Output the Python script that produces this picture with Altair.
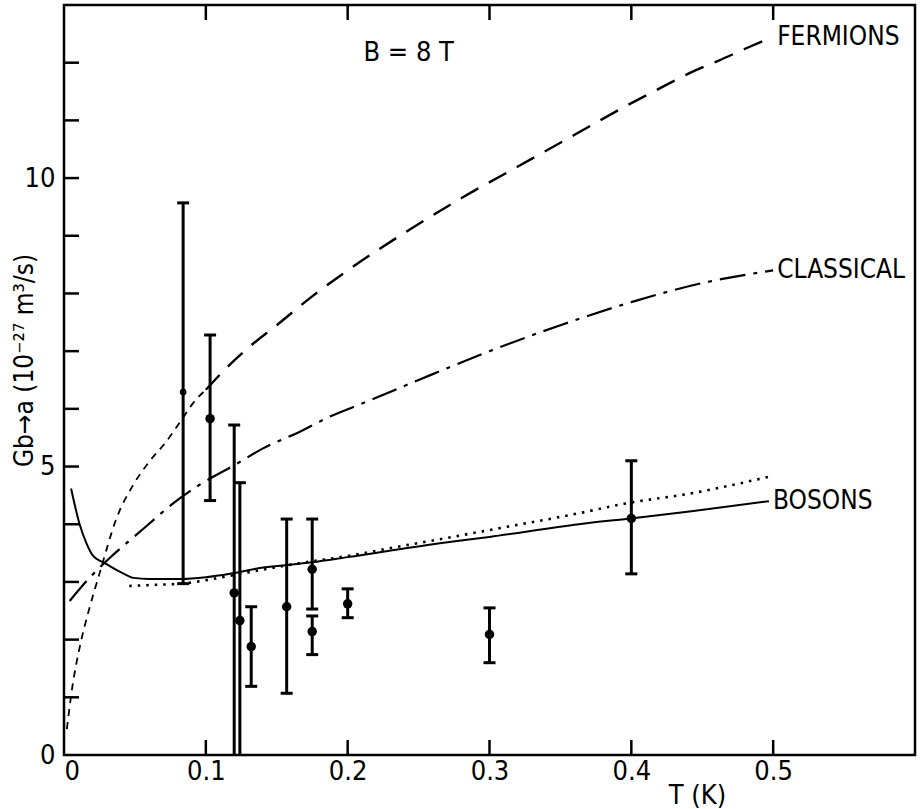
import altair as alt
import pandas as pd

# ---------------- data ----------------
# measured points (T in K, G in 1e-27 m^3/s) with error-bar limits
pt_T = [0.084, 0.103, 0.120, 0.124, 0.132, 0.157, 0.175, 0.175, 0.200, 0.300, 0.400]
pt_G = [6.29, 5.83, 2.81, 2.33, 1.88, 2.57, 3.22, 2.14, 2.62, 2.09, 4.10]
pt_lo = [2.97, 4.41, 0.0, 0.0, 1.19, 1.07, 2.53, 1.74, 2.38, 1.60, 3.14]
pt_hi = [9.57, 7.28, 5.72, 4.72, 2.57, 4.09, 4.09, 2.41, 2.88, 2.55, 5.10]
pt_lo_cap = [True, True, False, False, True, True, True, True, True, True, True]
pt_open = [True, False, False, False, False, False, False, False, False, False, False]

# theory curves
ferm_low_T = [0.002, 0.006, 0.011, 0.018, 0.025, 0.037, 0.049, 0.060, 0.072, 0.084, 0.091, 0.100]
ferm_low_G = [0.45, 1.20, 1.86, 2.55, 3.14, 4.10, 4.69, 5.08, 5.43, 5.85, 6.10, 6.33]
ferm_T = [0.100, 0.115, 0.131, 0.150, 0.175, 0.200, 0.240, 0.280, 0.320, 0.360, 0.394, 0.422, 0.441, 0.462, 0.481, 0.500]
ferm_G = [6.33, 6.72, 7.08, 7.45, 7.95, 8.40, 9.05, 9.65, 10.20, 10.75, 11.22, 11.58, 11.82, 12.04, 12.25, 12.45]
class_T = [0.004, 0.018, 0.032, 0.054, 0.079, 0.096, 0.122, 0.140, 0.166, 0.187, 0.213, 0.250, 0.300, 0.350, 0.400, 0.450, 0.500]
class_G = [2.67, 3.07, 3.41, 3.88, 4.40, 4.69, 5.05, 5.31, 5.60, 5.86, 6.12, 6.50, 7.00, 7.45, 7.85, 8.18, 8.40]
bos_T = [0.005, 0.011, 0.016, 0.020, 0.030, 0.040, 0.049, 0.060, 0.070, 0.083, 0.100, 0.117, 0.138, 0.175, 0.200, 0.265, 0.300, 0.363, 0.399, 0.441, 0.497]
bos_G = [4.62, 4.00, 3.66, 3.47, 3.31, 3.17, 3.07, 3.05, 3.05, 3.05, 3.08, 3.14, 3.24, 3.34, 3.43, 3.67, 3.78, 4.00, 4.10, 4.22, 4.40]
dot_T = [0.046, 0.065, 0.083, 0.100, 0.120, 0.160, 0.200, 0.242, 0.265, 0.300, 0.363, 0.396, 0.441, 0.500]
dot_G = [2.93, 2.95, 2.97, 3.03, 3.12, 3.30, 3.45, 3.64, 3.74, 3.90, 4.19, 4.36, 4.53, 4.84]

curve_labels = ["FERMIONS", "CLASSICAL", "BOSONS"]
field_label = "B = 8 T"
field_label_T = 0.243
field_label_G = 12.16

x_tick_values = [0, 0.1, 0.2, 0.3, 0.4, 0.5]
x_minor_ticks = [0.1, 0.2, 0.3, 0.4, 0.5]
y_tick_values = [0, 5, 10]
y_minor_ticks = [1, 2, 3, 4, 5, 6, 7, 8, 9, 10, 11, 12]
x_domain = [0, 0.6]
y_domain = [0, 13]

# ---------------- styling ----------------
W, H = 851, 750
FONT = "DejaVu Sans Condensed, DejaVu Sans, sans-serif"
TICK_LEN_Y = 15 / H * (y_domain[1] - y_domain[0])
TICK_LEN_X = 15 / W * (x_domain[1] - x_domain[0])

xs = alt.Scale(domain=x_domain, nice=False, zero=False)
ys = alt.Scale(domain=y_domain, nice=False, zero=False)

x_axis = alt.Axis(values=x_tick_values, format="~g", ticks=False, domain=False, grid=False,
                  labelFont=FONT, labelFontSize=27, labelColor="black", labelPadding=3,
                  title="T (K)", titleFont=FONT, titleFontSize=27, titleFontWeight="normal",
                  titleColor="black", titleX=633, titleY=40, titleAlign="center",
                  titleBaseline="middle")
y_axis = alt.Axis(values=y_tick_values, ticks=False, domain=False, grid=False,
                  labelFont=FONT, labelFontSize=27, labelColor="black", labelPadding=9,
                  title="Gb→a (10⁻²⁷ m³/s)", titleFont=FONT, titleFontSize=26,
                  titleFontWeight="normal", titleColor="black", titleX=-40, titleY=355,
                  titleAlign="center", titleBaseline="middle", titleAngle=270)

X = alt.X("T:Q", scale=xs, axis=x_axis)
Y = alt.Y("G:Q", scale=ys, axis=y_axis)

# ---------------- tables ----------------
pts = pd.DataFrame({"T": pt_T, "G": pt_G, "lo": pt_lo, "hi": pt_hi, "open": pt_open})

caps_rows = []
for t, lo, hi, has_lo in zip(pt_T, pt_lo, pt_hi, pt_lo_cap):
    if has_lo:
        caps_rows.append({"T": t, "G": lo})
    caps_rows.append({"T": t, "G": hi})
caps = pd.DataFrame(caps_rows)

tick_rows = []
for v in x_minor_ticks:
    tick_rows.append({"T": v, "T2": v, "G": y_domain[0], "G2": y_domain[0] + TICK_LEN_Y})
    tick_rows.append({"T": v, "T2": v, "G": y_domain[1], "G2": y_domain[1] - TICK_LEN_Y})
for v in y_minor_ticks:
    tick_rows.append({"T": x_domain[0], "T2": x_domain[0] + TICK_LEN_X, "G": v, "G2": v})
ticks = pd.DataFrame(tick_rows)

ferm_low = pd.DataFrame({"T": ferm_low_T, "G": ferm_low_G})
ferm = pd.DataFrame({"T": ferm_T, "G": ferm_G})
classical = pd.DataFrame({"T": class_T, "G": class_G})
bosons = pd.DataFrame({"T": bos_T, "G": bos_G})
dotted = pd.DataFrame({"T": dot_T, "G": dot_G})

labels = pd.DataFrame({
    "T": [ferm_T[-1], class_T[-1], bos_T[-1]],
    "G": [ferm_G[-1], class_G[-1], bos_G[-1]],
    "label": curve_labels,
})
field_df = pd.DataFrame({"T": [field_label_T], "G": [field_label_G], "label": [field_label]})

# ---------------- layers ----------------
tick_layer = alt.Chart(ticks).mark_rule(color="black", strokeWidth=2.5).encode(
    x=X, x2="T2:Q", y=Y, y2="G2:Q")

def curve(df, dash, width=2.0):
    kw = {"color": "black", "strokeWidth": width, "interpolate": "monotone"}
    if dash:
        kw["strokeDash"] = dash
    return alt.Chart(df).mark_line(**kw).encode(x=X, y=Y, order="T:Q")

ferm_low_layer = curve(ferm_low, [7, 6], 1.8)
ferm_layer = curve(ferm, [20, 12], 2.4)
class_layer = curve(classical, [26, 8, 4, 8], 2.2)
bos_layer = curve(bosons, None, 2.0)
dot_layer = curve(dotted, [2.5, 6], 2.6)

err_layer = alt.Chart(pts).mark_rule(color="black", strokeWidth=3).encode(
    x=X, y=alt.Y("lo:Q", scale=ys, axis=y_axis), y2="hi:Q")
cap_layer = alt.Chart(caps).mark_tick(color="black", orient="horizontal", size=12,
                                      thickness=3, opacity=1).encode(x=X, y=Y)
dot_pts = alt.Chart(pts).transform_filter("!datum.open").mark_circle(
    color="black", size=90, opacity=1).encode(x=X, y=Y)
open_pts = alt.Chart(pts).transform_filter("datum.open").mark_point(
    color="black", size=22, strokeWidth=2, filled=False, opacity=1).encode(x=X, y=Y)

label_layer = alt.Chart(labels).mark_text(
    align="left", baseline="middle", dx=4, font=FONT, fontSize=26, color="black").encode(
    x=X, y=Y, text="label:N")
field_layer = alt.Chart(field_df).mark_text(
    align="center", baseline="middle", font=FONT, fontSize=27, color="black").encode(
    x=X, y=Y, text="label:N")

chart = alt.layer(
    tick_layer, ferm_low_layer, ferm_layer, class_layer, dot_layer, bos_layer,
    err_layer, cap_layer, dot_pts, open_pts, label_layer, field_layer,
).properties(
    width=W, height=H, autosize=alt.AutoSizeParams(type="none"),
    padding={"left": 64, "top": 5, "right": 6, "bottom": 54},
    background="white",
).configure_view(
    stroke="black", strokeWidth=2.5
)

chart.save("out.html", embed_options={"renderer": "svg", "actions": False})
